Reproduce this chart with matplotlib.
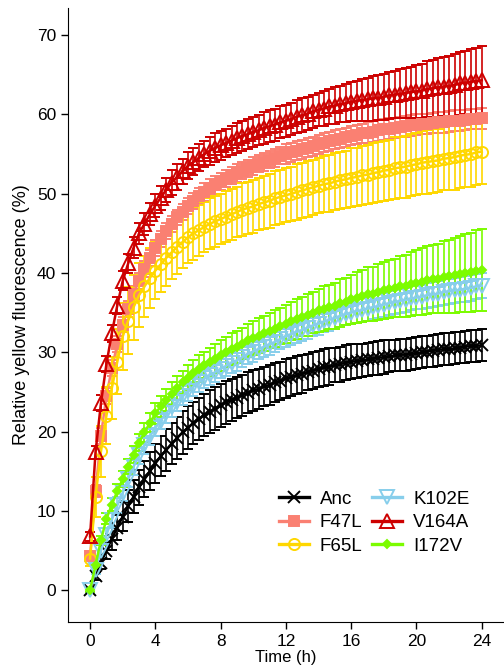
import numpy as np
import matplotlib
matplotlib.use("Agg")
import matplotlib.pyplot as plt
from matplotlib.lines import Line2D

plt.rcParams['font.family'] = ['Liberation Sans', 'DejaVu Sans']

# sampling every 20 min over 24 h
time_h = np.arange(73) / 3.0

anc = [0.0, 1.8, 3.5, 5.0, 6.5, 7.9, 9.3, 10.6, 11.8, 13.0, 14.0, 15.0,
       16.0, 16.9, 17.7, 18.5, 19.2, 19.9, 20.5, 21.1, 21.6, 22.1, 22.5, 22.9,
       23.3, 23.7, 24.0, 24.3, 24.6, 24.9, 25.2, 25.4, 25.7, 25.9, 26.2, 26.4,
       26.7, 26.9, 27.1, 27.3, 27.5, 27.7, 27.9, 28.1, 28.2, 28.4, 28.5, 28.7,
       28.8, 28.9, 29.0, 29.1, 29.2, 29.3, 29.4, 29.5, 29.6, 29.7, 29.7, 29.8,
       29.9, 30.0, 30.1, 30.2, 30.3, 30.4, 30.4, 30.5, 30.6, 30.7, 30.8, 30.8,
       30.9]
anc_err = [0.2, 0.5, 0.8, 1.1, 1.4, 1.6, 1.8, 2.0, 2.1, 2.2, 2.3, 2.4,
           2.5, 2.5, 2.6, 2.6, 2.6, 2.7, 2.7, 2.7, 2.7, 2.7, 2.7, 2.7,
           2.7, 2.7, 2.6, 2.6, 2.6, 2.6, 2.6, 2.5, 2.5, 2.5, 2.5, 2.4,
           2.4, 2.4, 2.4, 2.4, 2.3, 2.3, 2.3, 2.3, 2.3, 2.2, 2.2, 2.2,
           2.2, 2.2, 2.1, 2.1, 2.1, 2.1, 2.1, 2.0, 2.0, 2.0, 2.0, 2.0,
           2.0, 2.0, 2.0, 2.0, 2.0, 2.0, 2.0, 2.0, 2.0, 2.0, 2.0, 2.0,
           2.0]

f47l = [4.3, 12.5, 19.5, 24.5, 28.0, 31.0, 33.5, 35.5, 37.4, 39.0, 40.5, 41.9,
        43.2, 44.3, 45.3, 46.2, 47.0, 47.7, 48.4, 49.1, 49.7, 50.2, 50.7, 51.1,
        51.5, 51.9, 52.3, 52.6, 52.9, 53.2, 53.5, 53.8, 54.0, 54.3, 54.5, 54.8,
        55.0, 55.2, 55.4, 55.6, 55.8, 56.0, 56.2, 56.4, 56.6, 56.8, 56.9, 57.1,
        57.3, 57.4, 57.6, 57.7, 57.8, 58.0, 58.1, 58.2, 58.3, 58.4, 58.5, 58.6,
        58.7, 58.8, 58.8, 58.9, 59.0, 59.0, 59.1, 59.2, 59.2, 59.3, 59.4, 59.4,
        59.5]
f47l_err = [0.5, 0.8, 1.0, 1.0, 1.0, 1.0, 1.0, 1.0, 1.0, 1.0, 1.0, 1.0,
            1.0, 1.0, 1.0, 1.0, 1.0, 1.0, 1.0, 1.0, 1.0, 1.1, 1.1, 1.1,
            1.1, 1.1, 1.1, 1.1, 1.1, 1.1, 1.1, 1.1, 1.1, 1.1, 1.1, 1.1,
            1.2, 1.2, 1.2, 1.2, 1.2, 1.2, 1.2, 1.2, 1.2, 1.2, 1.2, 1.2,
            1.2, 1.2, 1.2, 1.3, 1.3, 1.3, 1.3, 1.3, 1.3, 1.3, 1.3, 1.3,
            1.3, 1.3, 1.3, 1.3, 1.3, 1.3, 1.3, 1.3, 1.3, 1.3, 1.3, 1.3,
            1.3]

f65l = [4.0, 11.8, 17.5, 22.0, 25.5, 28.8, 32.0, 34.0, 35.7, 37.2, 38.3, 39.4,
        40.3, 41.1, 41.9, 42.6, 43.3, 43.9, 44.5, 45.0, 45.4, 45.8, 46.2, 46.5,
        46.8, 47.1, 47.4, 47.7, 48.0, 48.2, 48.4, 48.7, 48.9, 49.1, 49.4, 49.6,
        49.8, 50.0, 50.2, 50.4, 50.6, 50.8, 51.0, 51.2, 51.3, 51.5, 51.7, 51.8,
        52.0, 52.1, 52.3, 52.4, 52.6, 52.7, 52.9, 53.0, 53.2, 53.3, 53.4, 53.6,
        53.7, 53.9, 54.0, 54.1, 54.2, 54.4, 54.5, 54.6, 54.8, 54.9, 55.0, 55.2,
        55.3]
f65l_err = [1.0, 2.5, 3.2, 3.6, 3.9, 4.1, 4.2, 4.2, 4.1, 4.0, 3.9, 3.8,
            3.6, 3.5, 3.5, 3.4, 3.4, 3.3, 3.3, 3.3, 3.2, 3.2, 3.2, 3.2,
            3.2, 3.2, 3.2, 3.2, 3.3, 3.3, 3.3, 3.3, 3.3, 3.4, 3.4, 3.4,
            3.4, 3.4, 3.5, 3.5, 3.5, 3.5, 3.5, 3.5, 3.6, 3.6, 3.6, 3.6,
            3.7, 3.7, 3.7, 3.7, 3.8, 3.8, 3.8, 3.8, 3.9, 3.9, 3.9, 3.9,
            3.9, 4.0, 4.0, 4.0, 4.0, 4.0, 4.0, 4.1, 4.1, 4.1, 4.1, 4.1,
            4.1]

k102e = [0.0, 2.6, 5.0, 7.0, 8.9, 10.7, 12.3, 14.0, 15.6, 17.0, 18.3, 19.4,
         20.5, 21.4, 22.3, 23.1, 23.8, 24.5, 25.1, 25.7, 26.2, 26.7, 27.1, 27.5,
         27.9, 28.3, 28.7, 29.0, 29.4, 29.8, 30.1, 30.4, 30.7, 31.0, 31.3, 31.7,
         32.0, 32.3, 32.6, 32.8, 33.1, 33.4, 33.6, 33.9, 34.1, 34.3, 34.6, 34.8,
         35.0, 35.2, 35.3, 35.5, 35.7, 35.8, 36.0, 36.2, 36.3, 36.5, 36.6, 36.8,
         36.9, 37.0, 37.2, 37.3, 37.4, 37.6, 37.7, 37.8, 37.9, 38.0, 38.1, 38.3,
         38.4]
k102e_err = [0.3, 0.5, 0.7, 0.8, 0.9, 1.0, 1.0, 1.0, 1.1, 1.1, 1.1, 1.1,
             1.1, 1.1, 1.2, 1.2, 1.2, 1.2, 1.2, 1.2, 1.2, 1.2, 1.2, 1.2,
             1.2, 1.3, 1.3, 1.3, 1.3, 1.3, 1.3, 1.3, 1.3, 1.3, 1.3, 1.3,
             1.3, 1.4, 1.4, 1.4, 1.4, 1.4, 1.4, 1.4, 1.4, 1.4, 1.4, 1.4,
             1.4, 1.5, 1.5, 1.5, 1.5, 1.5, 1.5, 1.5, 1.5, 1.5, 1.5, 1.5,
             1.5, 1.5, 1.6, 1.6, 1.6, 1.6, 1.6, 1.6, 1.6, 1.6, 1.6, 1.6,
             1.6]

v164a = [6.8, 17.4, 23.6, 28.5, 32.4, 35.9, 39.0, 41.2, 43.2, 45.0, 46.2, 47.4,
         48.5, 49.5, 50.5, 51.4, 52.1, 52.8, 53.5, 54.0, 54.5, 55.0, 55.4, 55.8,
         56.1, 56.4, 56.7, 57.0, 57.3, 57.5, 57.8, 58.0, 58.3, 58.5, 58.7, 59.0,
         59.2, 59.4, 59.7, 59.9, 60.1, 60.4, 60.6, 60.7, 61.0, 61.1, 61.3, 61.4,
         61.6, 61.7, 61.8, 61.9, 62.0, 62.1, 62.2, 62.4, 62.5, 62.6, 62.7, 62.8,
         62.9, 63.0, 63.2, 63.3, 63.4, 63.5, 63.6, 63.7, 63.9, 64.0, 64.1, 64.2,
         64.3]
v164a_err = [0.6, 0.8, 1.0, 1.0, 1.1, 1.1, 1.2, 1.2, 1.3, 1.3, 1.4, 1.4,
             1.5, 1.5, 1.5, 1.6, 1.6, 1.6, 1.7, 1.7, 1.7, 1.7, 1.8, 1.8,
             1.8, 1.8, 1.8, 1.9, 1.9, 1.9, 1.9, 1.9, 2.0, 2.0, 2.0, 2.0,
             2.0, 2.0, 2.1, 2.1, 2.1, 2.1, 2.1, 2.2, 2.2, 2.3, 2.3, 2.4,
             2.5, 2.5, 2.6, 2.7, 2.8, 2.8, 2.9, 3.0, 3.0, 3.1, 3.2, 3.2,
             3.3, 3.4, 3.5, 3.6, 3.7, 3.7, 3.8, 3.9, 4.0, 4.0, 4.1, 4.2,
             4.3]

i172v = [0.0, 3.2, 6.3, 9.0, 10.8, 12.5, 14.0, 15.6, 17.1, 18.6, 19.9, 21.1,
         22.3, 23.2, 24.0, 24.8, 25.5, 26.2, 26.8, 27.4, 27.9, 28.4, 28.8, 29.2,
         29.6, 30.0, 30.4, 30.7, 31.1, 31.5, 31.8, 32.1, 32.4, 32.7, 33.0, 33.3,
         33.6, 33.9, 34.2, 34.5, 34.7, 35.0, 35.3, 35.5, 35.7, 35.9, 36.2, 36.4,
         36.7, 36.9, 37.1, 37.3, 37.4, 37.6, 37.8, 38.0, 38.1, 38.3, 38.4, 38.6,
         38.8, 38.9, 39.1, 39.2, 39.3, 39.5, 39.6, 39.7, 39.9, 40.0, 40.1, 40.3,
         40.4]
i172v_err = [0.2, 0.4, 0.6, 0.7, 0.8, 0.9, 1.0, 1.0, 1.1, 1.1, 1.2, 1.2,
             1.3, 1.3, 1.4, 1.4, 1.5, 1.5, 1.6, 1.6, 1.7, 1.7, 1.8, 1.8,
             1.9, 1.9, 2.0, 2.0, 2.0, 2.1, 2.1, 2.2, 2.2, 2.2, 2.3, 2.3,
             2.4, 2.4, 2.5, 2.5, 2.6, 2.6, 2.7, 2.8, 2.8, 2.9, 3.0, 3.0,
             3.1, 3.2, 3.3, 3.4, 3.4, 3.5, 3.6, 3.7, 3.7, 3.8, 3.9, 4.0,
             4.1, 4.2, 4.3, 4.3, 4.4, 4.5, 4.6, 4.7, 4.8, 4.9, 5.0, 5.1,
             5.2]

labels = ['Anc', 'F47L', 'F65L', 'K102E', 'V164A', 'I172V']
means = [anc, f47l, f65l, k102e, v164a, i172v]
errs = [anc_err, f47l_err, f65l_err, k102e_err, v164a_err, i172v_err]
colors = ['black', '#FA8072', '#FFD700', '#87CEEB', '#CD0000', '#7CFC00']
markers = ['x', 's', 'o', 'v', '^', 'D']
msizes = [8, 7.5, 8, 10, 10, 4.5]
filled = [True, True, False, False, False, True]

fig = plt.figure(figsize=(5.04, 6.70), dpi=100)
ax = fig.add_axes([0.135, 0.0716, 0.863, 0.9164])

handles = []
for lab, m, e, c, mk, ms, fl in zip(labels, means, errs, colors, markers, msizes, filled):
    ax.errorbar(time_h, m, yerr=e, color=c, ecolor=c, lw=1.8, elinewidth=1.2,
                capsize=3.5, capthick=1.2, marker=mk, ms=ms, mew=1.4,
                mfc=c if fl else 'none', mec=c)
    handles.append(Line2D([], [], color=c, lw=2.4, marker=mk, ms=ms, mew=1.4,
                          mfc=c if fl else 'none', mec=c))

ax.set_xlim(-1.35, 25.3)
ax.set_ylim(-4.0, 73.4)
ax.set_xticks(range(0, 25, 4))
ax.set_yticks(range(0, 71, 10))
ax.spines['top'].set_visible(False)
ax.spines['right'].set_visible(False)
ax.tick_params(direction='out', length=5, width=1, labelsize=12.5)
ax.set_xlabel('Time (h)', fontsize=12, labelpad=1)
ax.set_ylabel('Relative yellow fluorescence (%)', fontsize=13, labelpad=5)

ax.legend(handles, labels, ncol=2, loc='upper left', bbox_to_anchor=(0.467, 0.226),
          frameon=False, fontsize=13.5, handlelength=1.6, handletextpad=0.6,
          columnspacing=0.5, labelspacing=0.33, borderaxespad=0)

fig.savefig('out.png', dpi=100)
